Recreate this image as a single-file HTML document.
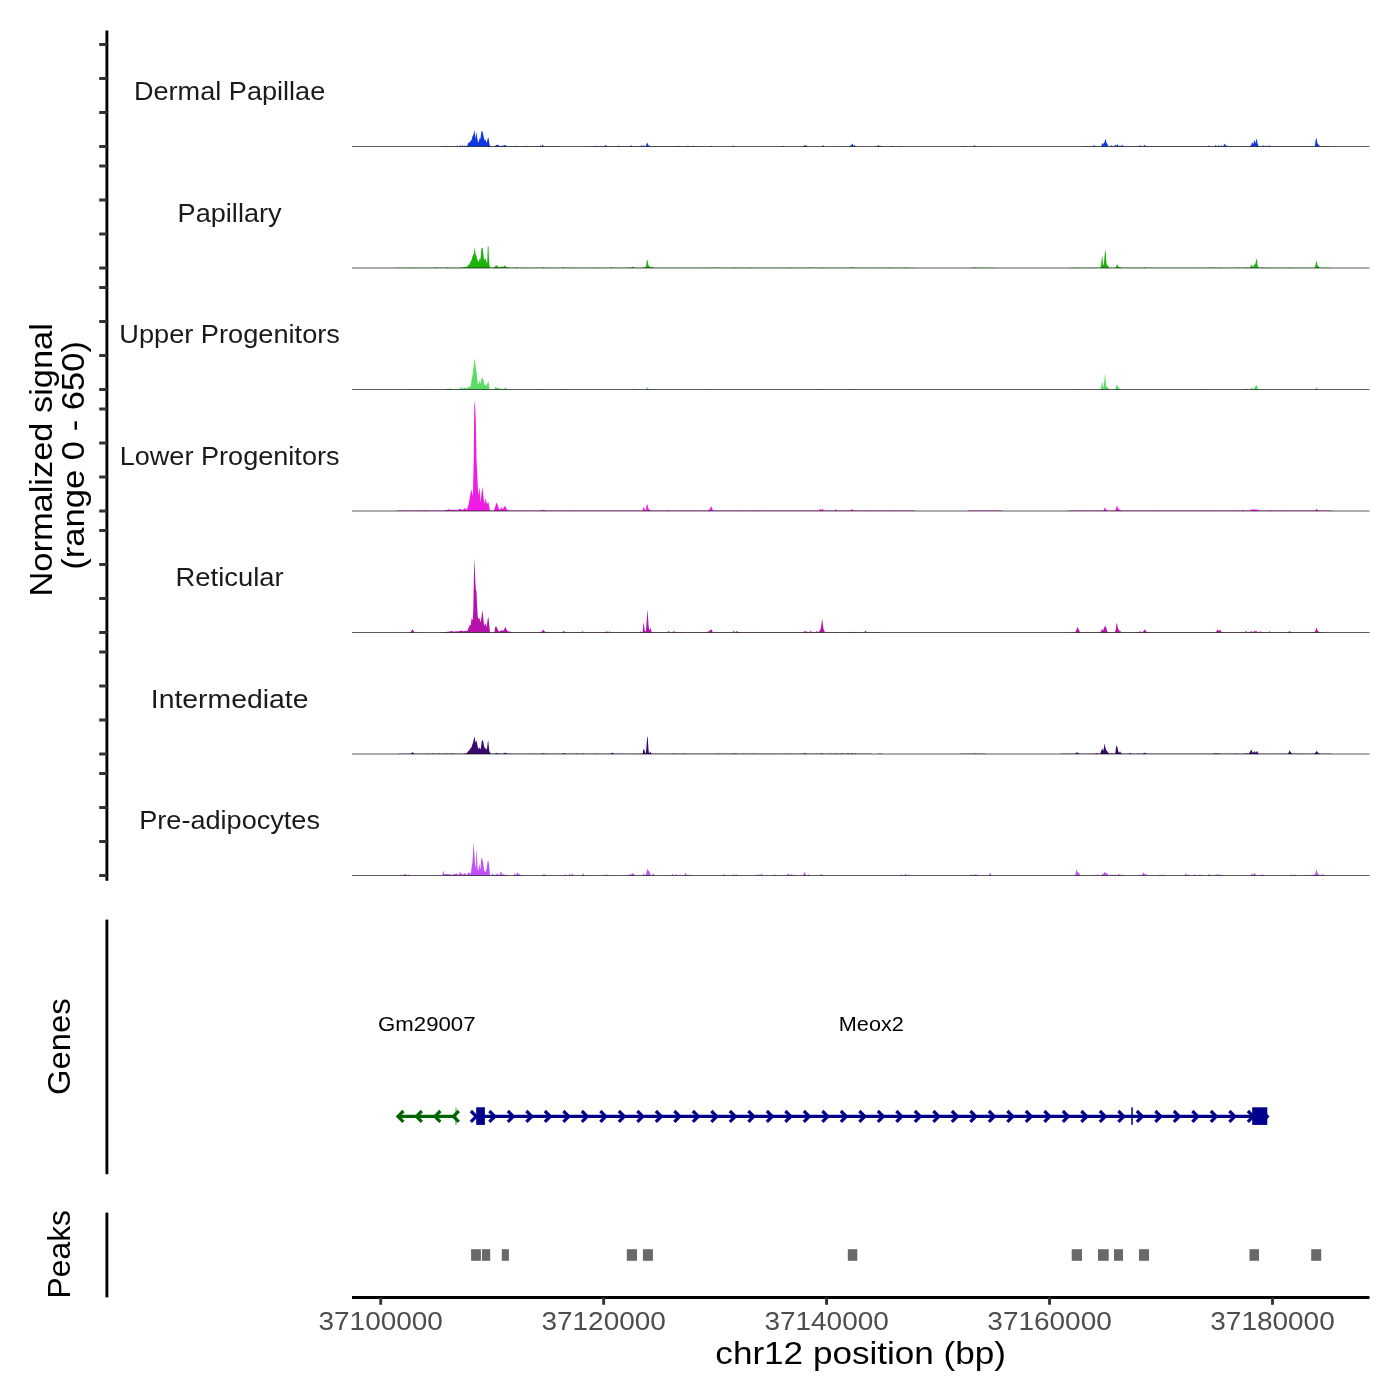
<!DOCTYPE html>
<html><head><meta charset="utf-8"><title>Coverage plot</title>
<style>html,body{margin:0;padding:0;background:#fff}svg{display:block;will-change:transform}text{font-family:"Liberation Sans",sans-serif}</style></head>
<body>
<svg width="1400" height="1400" viewBox="0 0 1400 1400" font-family="'Liberation Sans', sans-serif">
<path d="M352.0,146.50L352.00,146.50L439.75,146.50L440.00,146.25L445.00,146.25L446.00,145.70L447.00,146.25L456.50,146.25L457.50,145.50L458.50,146.25L459.50,146.25L460.50,145.30L461.25,146.08L461.75,146.25L462.50,145.00L463.25,146.25L464.25,146.20L465.00,145.30L465.75,146.20L466.75,146.20L467.25,145.47L468.00,143.30L469.50,142.30L471.50,140.00L472.50,136.36L473.50,134.65L474.50,129.64L475.50,138.90L476.25,133.00L476.50,132.30L477.50,139.79L478.25,142.82L479.75,137.94L480.25,139.36L481.50,131.20L482.25,131.12L482.50,131.58L484.25,139.25L484.75,140.25L485.00,140.18L485.25,139.38L485.50,139.33L486.00,141.50L486.50,142.75L486.75,142.36L487.75,138.42L488.00,137.87L488.50,137.70L489.50,144.25L489.75,145.30L490.25,146.25L494.75,146.25L495.50,145.50L497.00,144.70L498.50,145.00L499.50,146.00L501.50,145.90L505.00,145.00L507.50,146.25L515.00,146.25L516.00,145.70L517.00,146.25L525.00,146.25L526.00,145.80L527.00,146.25L539.50,146.25L539.75,146.23L540.50,145.20L541.25,146.23L541.50,146.25L542.50,144.50L543.50,146.05L544.00,145.70L544.75,146.25L560.00,146.25L560.25,146.50L589.75,146.50L590.00,146.25L594.75,146.25L596.00,145.70L597.25,146.25L604.00,146.25L605.50,145.00L607.00,146.25L617.25,146.25L618.50,145.50L619.75,146.25L630.00,146.25L631.00,144.90L632.00,146.25L640.50,146.25L641.50,145.30L642.50,146.25L643.00,146.25L643.75,145.02L644.75,146.25L645.75,146.25L646.75,143.25L647.25,142.50L648.50,145.60L649.00,145.30L650.25,146.25L678.00,146.25L679.00,145.70L680.00,146.25L686.75,146.25L688.00,145.60L689.00,146.24L692.00,146.25L693.00,145.80L694.00,146.25L700.00,146.25L700.25,146.50L709.75,146.50L711.00,145.80L712.25,146.50L732.25,146.50L733.50,145.60L734.75,146.50L781.75,146.50L783.00,145.80L784.25,146.50L803.50,146.50L804.25,145.47L805.00,144.90L806.00,145.66L806.50,145.20L807.50,146.50L821.75,146.50L823.00,145.10L824.25,146.50L838.75,146.50L840.00,145.90L841.25,146.50L849.75,146.50L850.75,144.89L851.00,144.70L851.50,144.89L852.25,143.55L852.75,144.10L853.50,146.02L854.50,145.00L855.00,145.38L855.75,146.50L877.00,146.50L877.75,145.47L878.50,144.90L880.00,146.27L881.00,145.70L882.25,146.50L890.75,146.50L892.00,145.80L893.25,146.50L898.75,146.50L900.00,146.00L901.25,146.50L962.50,146.50L965.00,146.00L967.50,146.50L973.00,146.50L973.75,145.72L974.50,145.30L975.25,145.72L976.00,146.50L982.75,146.50L984.00,146.00L985.25,146.50L1084.75,146.50L1085.00,146.20L1089.00,146.20L1090.00,145.90L1090.75,146.18L1093.00,146.20L1094.25,145.01L1095.25,146.15L1095.50,146.20L1101.25,146.13L1102.00,143.87L1102.50,143.11L1103.25,144.51L1104.00,142.55L1104.25,142.30L1104.50,142.79L1105.00,140.25L1105.50,138.76L1106.00,140.25L1106.50,142.97L1106.75,143.57L1107.00,143.32L1107.25,143.57L1108.25,146.15L1108.50,146.20L1110.75,146.16L1111.25,145.38L1111.75,145.01L1112.75,146.20L1114.25,146.20L1115.50,144.70L1116.50,145.87L1117.00,144.86L1117.50,144.30L1118.75,146.20L1119.00,146.20L1120.00,145.20L1121.00,146.20L1121.25,146.20L1122.25,144.72L1122.50,144.86L1123.25,146.20L1130.75,146.20L1132.00,145.90L1133.25,146.20L1139.00,146.20L1140.00,145.00L1141.00,146.20L1143.25,146.20L1144.50,144.70L1145.75,146.20L1147.00,145.90L1148.00,146.20L1175.25,146.20L1176.00,146.00L1176.75,146.20L1201.00,146.20L1202.00,145.90L1203.00,146.20L1208.25,146.20L1209.25,145.31L1210.00,146.16L1210.25,146.20L1214.75,146.20L1215.50,145.04L1215.75,144.92L1216.75,146.20L1218.00,146.07L1218.50,145.16L1218.75,145.02L1219.50,146.20L1220.50,146.07L1221.00,145.16L1221.25,145.02L1222.00,146.20L1223.25,146.20L1224.00,144.37L1224.50,143.74L1225.00,144.37L1225.50,145.50L1225.75,145.64L1226.50,144.90L1227.75,146.20L1238.75,146.20L1240.00,145.90L1241.25,146.20L1244.75,146.20L1246.00,145.80L1247.00,146.18L1250.00,146.20L1250.75,145.19L1251.00,145.00L1251.25,145.18L1251.75,143.07L1252.25,142.09L1253.00,144.07L1253.25,143.49L1253.50,143.41L1254.25,140.17L1254.50,140.06L1254.75,140.80L1255.25,143.21L1255.50,142.79L1256.50,138.44L1257.00,140.26L1257.50,143.58L1258.75,146.20L1261.75,146.20L1263.00,145.30L1264.25,146.20L1265.00,146.20L1266.00,145.50L1267.00,146.20L1268.00,146.16L1269.00,145.30L1270.25,146.20L1314.75,146.20L1315.75,139.66L1316.25,137.76L1316.75,139.15L1317.50,143.80L1317.75,143.55L1318.00,143.68L1319.00,145.50L1319.25,145.31L1319.50,145.41L1320.25,146.20L1330.00,146.20L1330.25,146.50L1369.50,146.50L1369.5,146.50Z" fill="#1038E0"/>
<line x1="352.0" x2="1369.5" y1="146.50" y2="146.50" stroke="#000" stroke-width="0.65"/>
<path d="M352.0,268.00L352.00,268.00L394.75,268.00L395.00,267.65L408.75,267.65L410.00,267.50L411.25,267.65L433.50,267.65L435.00,267.20L436.50,267.65L445.25,267.65L447.00,267.20L448.75,267.65L450.50,267.65L452.00,267.40L453.50,267.65L457.25,267.65L464.50,267.20L465.25,266.28L465.75,267.12L467.00,267.02L468.00,265.00L469.50,264.62L470.25,261.95L471.25,260.84L472.75,255.69L473.75,254.08L474.75,246.98L475.50,253.80L475.75,254.69L476.25,255.31L476.50,256.00L477.00,258.50L478.50,262.16L479.75,258.62L480.25,259.48L480.50,258.83L481.50,247.99L482.75,247.81L483.25,254.35L484.25,259.79L484.75,259.62L485.50,258.00L486.75,263.20L487.25,261.20L487.75,246.85L488.50,246.10L489.00,260.00L489.50,265.00L489.75,266.50L490.25,267.65L494.00,267.60L496.00,265.60L497.50,265.40L498.25,266.90L498.50,267.02L500.00,267.20L501.50,266.60L503.00,267.00L505.00,265.20L505.75,266.70L506.00,266.87L507.00,267.20L510.25,267.65L515.25,267.65L517.00,267.30L518.75,267.65L525.75,267.65L527.00,267.50L528.25,267.65L541.25,267.65L543.00,267.30L544.75,267.65L561.25,267.65L563.00,267.30L564.75,267.65L570.50,267.65L572.00,267.40L573.50,267.65L594.50,267.65L596.00,267.40L597.50,267.65L609.25,267.65L611.00,267.30L612.75,267.65L628.50,267.65L630.00,267.20L631.25,267.64L632.25,266.66L632.75,266.41L634.00,267.65L635.00,267.30L636.00,267.65L642.75,267.65L643.75,266.71L644.50,267.63L644.75,267.65L645.25,266.81L645.50,266.60L645.75,266.81L646.00,266.36L646.75,261.40L647.25,259.57L647.75,260.91L648.50,265.40L649.00,265.78L649.75,267.14L650.50,266.40L651.50,267.54L652.50,266.70L653.50,267.63L653.75,267.65L710.50,267.65L712.00,267.40L713.50,267.65L716.50,267.65L718.00,267.40L719.50,267.65L732.75,267.65L735.00,267.40L737.25,267.65L748.25,267.65L750.00,267.50L751.75,267.65L788.25,267.65L790.00,267.50L791.75,267.65L807.75,267.65L810.00,267.40L812.25,267.65L820.50,267.65L822.00,267.40L823.50,267.65L850.00,267.65L851.50,267.00L853.00,267.65L888.25,267.65L890.00,267.50L891.75,267.65L903.25,267.65L905.00,267.50L906.75,267.65L915.00,267.65L915.25,268.00L969.75,268.00L970.00,267.70L975.00,267.50L977.75,267.70L995.00,267.70L995.25,268.00L1069.75,268.00L1070.00,267.70L1075.25,267.70L1077.00,267.40L1078.75,267.70L1088.50,267.70L1090.00,267.50L1091.50,267.70L1095.00,267.70L1096.00,267.40L1097.00,267.70L1100.25,267.70L1101.00,265.63L1102.00,255.79L1102.25,256.04L1102.50,257.90L1103.00,263.62L1103.25,264.85L1103.50,265.08L1103.75,264.64L1105.25,249.06L1105.75,252.59L1106.50,263.76L1107.25,265.42L1107.50,265.09L1107.75,265.14L1108.00,265.51L1109.00,267.70L1115.25,267.70L1116.00,266.63L1117.00,264.26L1117.25,264.33L1117.50,264.80L1118.25,266.75L1118.75,266.41L1119.75,267.41L1120.25,267.01L1121.25,267.70L1129.75,267.70L1131.00,267.50L1132.25,267.70L1143.00,267.70L1144.50,267.20L1146.00,267.70L1207.75,267.70L1209.00,267.40L1210.25,267.70L1212.50,267.70L1214.00,267.20L1215.50,267.70L1218.25,267.70L1220.00,267.40L1221.75,267.70L1235.75,267.70L1238.00,267.50L1240.00,267.69L1244.50,267.70L1246.00,267.20L1247.50,267.70L1249.50,267.70L1250.25,266.87L1250.75,266.63L1251.50,264.69L1251.75,264.76L1252.00,265.26L1252.50,266.81L1253.00,266.50L1253.25,266.69L1253.50,266.62L1254.00,265.04L1254.50,264.18L1255.00,264.80L1255.75,262.22L1256.50,258.14L1257.00,260.36L1257.75,266.02L1258.75,267.70L1260.75,267.68L1262.00,267.30L1263.50,267.70L1265.75,267.70L1267.00,267.40L1268.25,267.70L1288.50,267.70L1290.00,267.50L1291.50,267.70L1314.50,267.70L1314.75,267.59L1315.25,266.31L1316.00,262.42L1316.50,260.79L1317.00,262.42L1317.50,265.39L1318.00,265.50L1319.00,267.27L1319.25,267.21L1320.00,267.70L1330.00,267.70L1330.25,268.00L1369.50,268.00L1369.5,268.00Z" fill="#1EB20C"/>
<line x1="352.0" x2="1369.5" y1="268.00" y2="268.00" stroke="#000" stroke-width="0.65"/>
<path d="M352.0,389.50L352.00,389.50L407.00,389.50L409.00,389.00L411.00,389.50L414.75,389.50L416.00,389.10L417.25,389.50L421.75,389.50L423.00,389.10L424.25,389.50L428.75,389.50L430.00,389.10L431.25,389.50L435.75,389.50L437.00,389.00L438.25,389.50L444.50,389.50L445.50,388.90L450.00,388.70L451.00,388.30L452.00,389.00L458.50,388.90L460.00,388.70L460.50,387.29L461.50,387.21L462.25,388.50L463.25,388.50L464.00,387.70L465.25,387.52L466.00,388.50L467.25,388.31L468.00,387.20L469.00,386.70L470.25,386.86L470.75,385.92L471.50,380.36L473.00,372.08L474.50,358.78L474.75,359.42L475.75,367.14L476.50,371.26L477.75,383.81L478.50,384.00L479.25,381.00L479.50,380.82L480.25,383.64L480.75,382.45L481.50,378.74L482.00,378.10L482.75,378.27L483.50,380.50L484.00,384.00L484.50,385.00L485.00,384.90L485.50,384.40L486.25,385.69L486.75,385.54L487.50,383.00L488.25,381.21L488.75,383.29L489.50,389.50L494.50,389.50L495.25,386.94L499.25,388.48L502.00,388.90L504.25,388.90L505.50,387.30L506.25,388.40L507.00,388.90L509.00,389.10L510.00,389.50L541.00,389.50L542.50,388.80L544.00,389.50L563.50,389.50L565.00,388.90L566.50,389.50L631.50,389.50L633.00,388.80L634.50,389.50L646.00,389.50L647.25,387.32L647.75,387.86L648.25,389.01L649.00,388.70L650.25,389.50L679.25,389.50L680.50,388.90L681.75,389.50L709.75,389.50L711.00,389.10L712.25,389.50L818.00,389.50L820.00,389.00L822.00,389.50L851.00,389.50L853.00,389.00L855.00,389.50L1075.75,389.50L1077.00,389.10L1078.25,389.50L1100.50,389.50L1101.00,388.38L1102.00,381.95L1102.25,382.10L1102.50,383.25L1103.00,386.79L1103.25,387.53L1103.50,387.72L1104.00,384.36L1105.00,373.60L1105.50,377.88L1106.00,385.26L1106.75,387.29L1107.25,386.87L1108.25,388.40L1108.75,388.62L1109.50,389.50L1115.00,389.50L1115.75,388.23L1116.50,385.56L1117.00,384.62L1117.50,385.56L1118.00,387.28L1118.25,387.12L1118.50,387.28L1119.25,388.71L1119.75,388.56L1120.75,389.50L1143.25,389.50L1144.50,389.00L1145.75,389.50L1199.75,389.50L1201.00,389.10L1202.25,389.50L1244.25,389.50L1245.50,388.70L1246.50,389.27L1247.50,388.50L1248.50,389.50L1250.25,389.50L1251.25,387.33L1251.50,387.54L1252.00,388.87L1252.50,388.70L1253.25,389.33L1254.25,387.52L1254.75,387.78L1255.25,386.43L1255.50,386.11L1255.75,386.43L1256.50,384.62L1257.50,388.06L1258.00,388.46L1258.50,389.50L1315.25,389.50L1316.50,387.30L1317.00,387.95L1317.50,389.11L1318.00,388.90L1319.00,389.50L1369.50,389.50L1369.5,389.50Z" fill="#58DE64"/>
<line x1="352.0" x2="1369.5" y1="389.50" y2="389.50" stroke="#000" stroke-width="0.65"/>
<path d="M352.0,511.00L352.00,511.00L396.75,511.00L397.00,510.50L406.25,510.50L406.75,510.05L407.25,510.50L422.25,510.50L422.75,510.34L424.25,510.50L424.75,510.04L425.00,510.49L425.75,510.06L426.25,510.50L432.00,510.50L432.50,510.27L433.25,510.50L437.50,510.50L437.75,510.32L438.25,510.50L444.50,510.50L445.00,510.20L447.50,509.80L449.00,509.00L450.00,510.00L452.00,509.80L454.00,510.00L455.50,509.81L456.50,510.20L458.00,509.50L459.50,509.20L460.25,508.45L461.25,509.52L462.25,509.98L463.50,509.32L465.25,507.76L465.75,509.34L466.00,509.50L467.00,509.50L467.75,506.69L468.75,503.91L471.25,488.63L472.50,495.91L473.00,492.00L473.75,457.80L474.25,405.00L474.50,401.25L475.00,405.00L475.75,419.12L476.50,459.04L478.25,495.72L479.25,487.65L479.50,487.76L480.50,502.40L482.25,486.58L484.25,503.08L484.50,503.67L485.75,498.02L486.50,502.40L487.00,504.03L488.25,501.70L488.50,502.43L490.00,510.50L493.75,510.50L494.00,510.20L496.50,502.66L496.75,502.70L497.25,503.70L498.25,507.12L499.00,509.00L499.75,509.75L500.75,508.85L501.50,506.80L502.25,508.98L503.25,508.52L504.50,506.40L505.25,506.04L505.50,506.27L506.75,509.29L507.50,510.20L509.75,510.50L517.50,510.50L518.00,510.24L518.50,510.50L541.00,510.50L542.50,509.40L543.75,510.27L544.50,510.00L545.50,510.50L549.50,510.50L550.25,510.18L551.25,510.50L552.50,510.50L553.00,510.30L553.50,510.50L572.75,510.50L573.75,510.31L574.00,510.50L577.50,510.50L577.75,510.30L578.25,510.50L590.25,510.50L590.75,510.18L591.00,510.50L598.25,510.50L598.50,510.33L599.00,510.50L618.25,510.50L618.50,510.37L618.75,510.50L642.50,510.50L643.25,508.02L643.75,507.00L644.25,507.75L645.00,510.00L645.25,509.81L645.75,510.16L646.00,509.65L646.75,505.56L647.25,504.05L647.75,505.15L648.50,509.01L649.00,509.15L649.75,510.15L650.25,509.81L651.25,510.50L660.50,510.50L661.00,510.18L661.75,510.50L667.50,510.50L668.50,509.80L669.50,510.50L679.75,510.50L680.50,510.20L681.25,510.50L687.25,510.50L688.00,510.31L688.50,510.50L690.75,510.50L691.00,510.32L691.50,510.50L707.50,510.50L708.50,509.80L709.00,510.10L709.25,509.91L709.75,508.86L710.25,508.37L711.00,506.36L711.25,506.15L712.50,509.50L713.50,510.50L731.50,510.50L731.75,510.29L732.00,510.50L739.75,510.50L740.25,510.28L740.75,510.50L741.25,510.37L741.75,510.50L755.00,510.50L755.50,510.37L758.50,510.50L759.00,510.29L760.00,510.50L761.25,510.27L761.75,510.50L778.50,510.50L778.75,510.36L779.25,510.50L807.00,510.50L807.25,510.30L807.75,510.50L819.00,510.50L819.75,509.28L820.25,508.82L821.25,510.49L822.50,508.60L823.75,510.50L834.50,510.49L835.25,509.50L835.75,509.21L837.00,510.50L850.50,510.50L851.25,509.28L851.75,508.82L852.75,510.46L853.50,510.00L854.50,510.50L864.50,510.50L865.50,510.20L866.50,510.50L891.00,510.50L891.50,510.31L892.25,510.50L915.00,510.50L915.25,511.00L967.75,511.00L968.00,510.55L986.50,510.55L987.00,510.37L987.50,510.55L1002.00,510.55L1002.25,511.00L1067.75,511.00L1068.00,510.50L1072.75,510.50L1073.00,510.25L1073.50,510.50L1079.25,510.50L1080.00,510.20L1080.50,510.50L1083.50,510.50L1084.00,510.31L1084.75,510.50L1103.50,510.50L1104.50,508.18L1105.00,507.50L1105.50,508.18L1106.25,509.93L1106.50,509.80L1106.75,509.93L1107.25,510.45L1113.50,510.50L1113.75,510.36L1115.00,510.50L1115.25,510.37L1115.75,509.43L1116.50,506.72L1117.00,505.70L1117.50,506.72L1118.00,508.58L1118.25,508.81L1118.50,508.60L1118.75,508.81L1119.50,510.01L1120.00,509.60L1121.00,510.50L1122.00,510.20L1122.75,510.50L1127.00,510.50L1127.50,510.31L1128.00,510.50L1145.00,510.50L1145.50,510.22L1145.75,510.50L1155.25,510.50L1155.75,510.10L1156.25,510.50L1182.50,510.50L1183.00,510.35L1183.25,510.50L1198.50,510.50L1199.00,510.25L1199.25,510.50L1200.00,510.50L1200.75,510.08L1201.50,510.50L1210.75,510.50L1211.50,510.14L1212.25,510.50L1217.75,510.50L1218.00,510.32L1218.50,510.50L1233.00,510.50L1233.75,510.14L1234.25,510.50L1236.50,510.50L1237.00,510.18L1237.75,510.50L1239.25,510.49L1239.75,510.16L1240.25,510.50L1242.00,510.50L1242.75,509.71L1243.00,509.71L1243.75,510.50L1250.00,510.50L1250.25,510.42L1251.25,509.18L1251.50,509.45L1252.00,509.00L1253.00,510.37L1253.50,509.36L1254.00,508.80L1254.50,509.36L1255.00,510.37L1256.00,509.00L1256.50,509.51L1257.00,510.43L1258.00,509.40L1259.00,510.50L1270.50,510.50L1271.25,510.10L1272.25,510.50L1273.25,510.36L1273.75,510.50L1281.50,510.50L1282.00,510.16L1282.50,510.50L1283.00,510.50L1283.25,510.24L1283.75,510.50L1315.25,510.50L1315.50,510.37L1316.00,509.36L1316.50,508.80L1317.50,510.25L1318.00,510.00L1319.00,510.50L1332.00,510.50L1332.25,511.00L1369.50,511.00L1369.5,511.00Z" fill="#F01CE4"/>
<line x1="352.0" x2="1369.5" y1="511.00" y2="511.00" stroke="#000" stroke-width="0.65"/>
<path d="M352.0,632.50L352.00,632.50L410.25,632.50L411.50,630.95L412.25,629.23L412.50,629.18L413.25,630.80L414.00,631.40L414.75,632.50L419.75,632.50L421.00,632.00L422.25,632.50L439.75,632.50L440.00,632.30L444.00,632.30L445.00,631.90L445.50,632.05L450.00,631.60L452.00,631.10L454.00,631.70L456.00,631.30L458.00,631.50L461.50,630.60L463.00,631.30L464.50,630.90L466.00,631.10L467.25,630.81L468.00,629.50L469.50,625.50L470.25,624.66L470.50,625.46L470.75,625.50L471.50,618.12L472.00,619.70L472.50,619.70L472.75,619.18L473.25,612.00L474.00,572.50L474.50,558.00L475.25,581.00L475.75,587.92L476.00,590.00L476.50,591.50L477.00,604.50L477.75,616.61L478.50,619.00L479.25,618.00L479.50,618.25L480.00,620.50L480.50,621.79L480.75,621.98L482.50,610.10L483.75,622.67L484.25,626.08L485.50,622.90L486.00,625.50L486.50,626.80L487.00,624.47L487.75,618.75L488.25,616.80L488.75,620.00L489.75,629.88L490.00,631.75L490.25,632.30L494.00,632.25L494.50,631.62L495.00,628.00L495.50,626.75L496.00,626.30L496.25,626.31L498.25,630.80L499.00,631.50L500.75,630.73L501.50,630.00L502.50,630.67L503.75,630.19L505.00,627.70L505.50,627.10L506.75,629.88L507.50,631.00L509.50,631.70L510.50,631.50L511.50,632.30L518.75,632.30L520.00,631.80L521.25,632.30L527.75,632.30L529.00,631.90L530.25,632.30L540.25,632.30L541.25,631.59L542.00,631.66L542.75,630.02L543.25,629.55L544.25,631.27L544.75,631.36L545.75,632.30L546.50,632.30L547.50,631.70L548.50,632.30L562.25,632.30L563.25,631.33L563.75,631.11L564.75,631.92L565.50,631.80L566.50,632.30L576.00,632.30L577.00,632.00L578.00,632.30L581.25,632.30L581.50,632.27L582.50,631.10L583.50,632.27L583.75,632.30L594.00,632.30L595.00,632.00L596.00,632.30L604.50,632.30L605.50,631.60L606.50,632.29L607.50,631.20L608.50,632.29L609.75,631.31L610.75,632.30L621.00,632.30L622.00,632.00L623.00,632.30L631.00,632.30L632.00,631.90L633.00,632.30L635.00,632.30L636.00,631.80L637.00,632.30L639.50,632.30L640.50,631.50L641.50,632.30L642.50,632.30L642.75,631.25L643.25,623.73L643.50,622.51L644.75,630.38L645.00,631.15L645.50,631.40L645.75,631.30L646.00,630.30L647.50,609.30L648.50,624.54L649.00,628.97L649.50,630.30L650.25,627.95L650.50,627.90L651.50,631.75L652.00,632.30L667.50,632.30L668.25,631.32L668.75,631.01L670.00,632.30L672.50,632.30L673.25,631.40L673.75,631.11L675.00,632.30L676.00,631.80L677.00,632.30L679.75,632.30L681.00,631.70L682.25,632.30L691.00,632.30L692.00,631.90L693.00,632.30L702.75,632.35L704.00,631.90L705.00,632.33L707.25,632.35L708.50,631.00L709.25,631.70L710.00,629.93L710.50,629.32L711.25,630.18L711.50,629.81L711.75,629.87L712.75,632.33L713.00,632.35L732.50,632.35L733.25,631.32L733.75,631.01L735.00,632.35L735.50,632.35L736.25,631.32L736.75,631.01L737.75,632.07L738.50,631.70L739.75,632.35L745.75,632.35L747.00,631.90L748.25,632.35L769.50,632.35L771.00,632.00L772.50,632.35L802.75,632.35L803.00,632.31L804.00,631.30L804.75,631.77L805.50,630.90L806.25,631.77L807.00,631.50L808.00,632.34L809.50,632.35L810.25,631.25L810.75,630.91L812.00,632.30L813.00,631.80L814.00,632.30L815.50,632.35L816.50,631.00L817.50,632.35L818.25,632.35L819.00,631.25L819.75,630.89L820.50,629.32L821.25,625.91L822.00,619.71L822.25,619.03L823.25,627.43L824.00,630.50L825.25,632.35L834.75,632.35L836.00,631.90L837.25,632.35L849.50,632.35L851.00,631.80L852.50,632.35L854.00,632.33L855.00,631.90L856.25,632.35L864.25,632.35L865.50,630.50L866.75,632.35L880.00,632.35L880.25,632.50L1069.75,632.50L1070.00,632.30L1075.00,632.30L1076.00,631.00L1076.75,628.66L1077.25,627.93L1077.75,626.61L1078.50,629.59L1078.75,629.64L1079.00,630.01L1080.00,632.30L1100.50,632.30L1101.25,630.96L1102.00,628.78L1102.25,628.85L1102.75,630.21L1103.25,630.46L1104.00,628.05L1104.50,627.28L1105.00,625.23L1105.25,625.35L1105.75,627.56L1106.00,627.33L1106.25,627.43L1107.00,630.64L1108.00,632.30L1114.75,632.30L1115.00,631.95L1115.75,629.40L1116.25,625.21L1116.75,622.71L1117.00,623.20L1117.75,627.77L1118.00,628.05L1118.50,629.86L1119.00,630.03L1119.75,631.30L1120.25,630.91L1121.25,632.13L1122.00,631.80L1123.00,632.30L1137.00,632.30L1138.00,632.00L1138.75,632.23L1140.00,631.00L1141.25,632.30L1142.50,632.30L1143.50,630.95L1143.75,630.99L1144.00,630.66L1144.75,629.13L1145.25,629.76L1145.75,631.11L1146.00,631.39L1146.50,631.47L1147.25,632.30L1148.00,632.30L1149.00,631.90L1150.00,632.30L1215.25,632.30L1216.25,631.51L1216.50,631.59L1217.25,629.93L1217.75,629.34L1218.50,630.77L1219.00,630.58L1219.25,631.01L1220.00,629.80L1220.25,629.85L1221.25,631.80L1221.50,631.70L1222.50,632.30L1235.75,632.30L1237.00,631.90L1238.25,632.30L1240.25,632.30L1241.50,631.70L1242.75,632.30L1245.00,632.30L1245.75,631.25L1246.25,630.91L1247.50,632.27L1248.50,631.70L1249.75,632.30L1250.25,632.14L1250.75,631.30L1251.25,630.91L1252.25,632.30L1253.25,631.31L1254.00,632.16L1254.50,631.09L1255.00,630.50L1256.00,631.86L1256.75,630.91L1258.00,632.30L1259.75,632.23L1260.25,631.60L1260.75,631.31L1261.75,632.30L1263.00,632.30L1264.00,631.90L1265.00,632.30L1268.25,632.30L1269.50,631.30L1270.75,632.30L1288.25,632.30L1289.50,630.90L1290.50,632.04L1291.25,631.71L1292.25,632.30L1302.00,632.30L1303.00,632.10L1304.00,632.30L1312.00,632.30L1313.00,631.90L1314.25,632.30L1314.50,632.27L1315.50,630.73L1316.00,628.72L1316.50,627.62L1317.00,628.72L1317.50,630.65L1317.75,630.52L1318.00,630.78L1318.50,631.70L1319.25,631.78L1320.00,632.30L1325.00,632.30L1325.25,632.50L1369.50,632.50L1369.5,632.50Z" fill="#B412AA"/>
<line x1="352.0" x2="1369.5" y1="632.50" y2="632.50" stroke="#000" stroke-width="0.65"/>
<path d="M352.0,754.00L352.00,754.00L397.75,754.00L398.00,753.75L410.50,753.75L411.75,753.09L412.50,752.00L413.25,753.09L414.75,753.75L426.50,753.75L427.00,753.46L427.50,753.75L428.25,753.40L429.00,753.75L432.00,753.75L432.75,753.27L434.00,753.75L438.00,753.75L439.00,753.30L440.00,753.75L442.00,753.75L443.00,753.40L444.00,753.75L445.25,753.56L446.00,753.75L447.00,753.40L448.00,753.75L448.50,753.48L449.00,753.75L450.25,753.75L451.00,753.44L451.50,753.55L452.00,753.40L452.75,753.68L453.50,753.56L454.25,753.75L463.50,753.75L464.50,753.40L466.25,753.21L467.00,752.85L468.00,751.40L469.50,750.11L470.50,748.28L471.50,747.13L473.00,742.50L474.50,736.64L474.75,737.31L475.50,742.90L476.25,740.45L476.50,740.50L477.75,747.04L478.50,749.20L479.25,747.50L479.50,747.43L480.50,749.52L481.00,747.14L481.75,741.43L482.25,740.31L483.00,740.50L484.25,747.12L484.50,747.57L486.50,749.50L486.75,749.43L487.25,746.77L487.75,742.00L488.00,740.90L488.25,740.76L489.25,751.15L490.75,753.73L495.00,753.72L496.25,752.81L497.50,753.64L498.50,753.20L499.75,753.75L502.50,753.75L503.50,753.20L504.25,753.57L504.75,752.80L505.25,752.41L506.00,753.36L506.50,753.20L507.50,753.75L510.50,753.75L511.00,753.52L511.75,753.75L529.75,753.75L530.50,753.47L531.50,753.75L534.25,753.75L534.75,753.51L535.50,753.75L541.25,753.75L542.50,753.00L543.75,753.75L544.25,753.44L545.50,753.70L546.25,753.41L547.00,753.75L559.00,753.75L559.75,753.51L560.50,753.74L562.25,753.75L563.75,753.01L564.75,753.59L565.50,753.40L566.50,753.75L573.75,753.75L574.50,753.40L575.25,753.74L576.00,753.75L576.75,753.32L577.75,753.75L581.00,753.75L583.00,753.44L584.00,753.75L595.00,753.75L596.00,753.50L597.00,753.75L610.75,753.75L612.00,752.60L613.00,753.51L613.50,753.30L614.50,753.75L621.25,753.75L622.00,753.57L622.50,753.75L639.25,753.75L640.25,753.48L642.00,753.75L642.50,753.66L642.75,753.42L643.00,750.50L643.50,749.32L644.25,749.47L645.00,752.60L645.25,753.20L645.75,753.20L646.25,749.30L647.00,739.33L647.25,737.07L647.50,736.42L647.75,737.50L648.50,750.00L649.00,752.82L649.75,752.99L650.50,751.60L651.25,753.38L651.75,753.75L672.00,753.75L672.50,753.61L675.00,753.75L676.00,753.50L677.00,753.75L682.75,753.75L683.75,753.34L684.75,753.75L708.25,753.63L716.50,753.75L717.75,753.38L719.00,753.75L725.75,753.75L726.50,753.48L727.00,753.75L729.75,753.75L730.75,753.40L731.75,753.72L732.75,753.75L734.00,753.30L735.00,753.68L736.00,753.20L737.00,753.75L740.50,753.75L741.00,753.52L741.50,753.75L743.00,753.75L743.75,753.44L744.50,753.75L751.00,753.75L751.25,753.60L751.50,753.75L754.00,753.75L754.75,753.36L755.50,753.75L767.50,753.75L768.00,753.60L768.50,753.75L789.00,753.75L789.75,753.44L790.50,753.75L803.25,753.75L804.50,753.10L805.75,753.75L807.00,753.40L808.00,753.75L820.25,753.75L821.50,753.20L823.25,753.75L829.00,753.75L829.25,753.62L833.50,753.75L834.25,753.58L834.75,753.72L836.00,753.40L837.50,753.75L839.75,753.75L840.00,753.61L840.50,753.75L842.00,753.30L843.50,753.75L846.50,753.75L848.00,753.30L849.50,753.75L850.50,753.75L852.00,753.30L853.50,753.75L855.00,753.38L856.00,753.75L872.00,753.75L872.25,754.00L877.50,754.00L880.00,753.50L882.50,754.00L959.75,754.00L960.00,753.80L973.25,753.79L975.00,753.50L976.75,753.79L986.00,753.80L986.25,754.00L1059.75,754.00L1060.00,753.75L1064.75,753.75L1065.25,753.50L1066.00,753.75L1074.75,753.75L1075.50,753.27L1076.00,753.33L1077.00,752.00L1077.75,753.09L1078.25,753.11L1079.00,753.74L1091.25,753.75L1092.00,753.42L1093.00,753.75L1094.00,753.75L1095.00,753.40L1095.75,753.54L1096.50,753.00L1097.50,753.61L1098.00,753.40L1098.75,753.74L1100.00,753.75L1100.75,752.62L1101.25,750.58L1101.50,749.88L1101.75,749.73L1102.25,748.13L1102.75,750.31L1103.25,750.71L1103.75,748.76L1104.50,743.86L1104.75,744.07L1105.25,747.48L1105.50,747.31L1106.00,750.09L1106.25,749.80L1106.75,751.12L1107.00,750.82L1107.25,751.12L1107.75,752.39L1108.25,752.60L1108.75,753.30L1109.00,753.20L1110.00,753.75L1111.00,753.72L1112.00,753.00L1113.00,753.72L1114.00,753.40L1115.00,753.75L1115.25,753.26L1115.50,751.77L1116.00,747.18L1116.50,744.67L1117.00,747.18L1117.25,746.66L1117.50,747.20L1118.00,750.62L1118.75,752.74L1119.25,752.61L1120.00,751.24L1120.50,751.99L1121.00,753.33L1121.50,753.27L1122.25,753.75L1129.00,753.75L1130.50,753.00L1131.75,753.75L1136.75,753.75L1138.00,753.50L1139.25,753.75L1142.50,753.75L1143.50,753.20L1144.00,753.44L1145.00,752.40L1146.00,753.50L1146.50,753.45L1147.00,753.75L1212.00,753.75L1213.00,753.40L1214.00,753.75L1214.75,753.75L1216.00,753.00L1217.00,753.72L1218.00,753.30L1219.00,753.75L1220.00,753.20L1221.00,753.75L1227.25,753.75L1227.75,753.54L1228.25,753.75L1234.50,753.75L1235.00,753.61L1236.75,753.75L1237.50,753.43L1239.00,753.75L1242.00,753.75L1243.25,753.68L1244.00,753.40L1245.00,753.72L1246.00,753.00L1247.00,753.72L1248.00,753.20L1248.75,753.64L1249.50,752.56L1249.75,752.61L1250.50,751.35L1251.25,749.17L1251.50,749.46L1252.00,751.30L1252.75,752.80L1253.00,752.89L1253.25,752.51L1253.75,752.34L1254.50,750.71L1255.25,752.34L1255.75,752.51L1256.00,752.89L1257.00,750.71L1258.00,752.80L1258.75,753.69L1259.00,753.75L1287.75,753.75L1288.75,752.46L1289.50,750.28L1289.75,750.35L1290.25,751.71L1290.75,751.96L1291.25,753.21L1291.75,753.26L1292.50,753.75L1300.00,753.75L1301.00,753.50L1302.00,753.75L1314.00,753.75L1314.75,753.21L1315.25,753.23L1315.75,752.08L1316.00,751.80L1316.25,751.81L1316.75,750.85L1317.00,751.04L1317.50,752.24L1318.00,752.54L1318.50,753.34L1319.00,753.20L1320.00,753.75L1332.00,753.75L1332.25,754.00L1369.50,754.00L1369.5,754.00Z" fill="#3A086C"/>
<line x1="352.0" x2="1369.5" y1="754.00" y2="754.00" stroke="#000" stroke-width="0.65"/>
<path d="M352.0,875.50L352.00,875.50L400.00,875.50L401.00,874.60L402.00,875.50L403.75,875.50L405.00,873.50L406.00,874.86L406.50,874.79L407.25,875.50L407.75,875.43L408.25,874.80L408.75,874.51L409.75,875.50L442.25,875.50L443.25,870.65L444.25,874.01L445.50,874.30L447.00,873.90L448.50,874.30L450.00,874.10L451.00,874.90L452.50,874.90L453.50,874.10L455.00,874.30L456.25,873.23L456.50,873.28L457.25,874.51L458.25,874.69L459.25,874.35L459.75,871.99L460.25,871.92L460.75,873.74L461.25,872.29L461.75,874.31L462.75,874.41L465.00,872.99L465.25,873.08L465.75,874.70L466.75,874.70L467.50,874.10L468.00,872.58L468.50,873.58L468.75,873.28L469.25,871.52L469.75,873.28L470.50,874.20L471.00,872.46L472.00,864.56L472.50,861.94L473.50,842.83L473.75,844.00L474.25,852.62L475.50,867.57L475.75,867.83L476.00,863.50L476.50,849.83L476.75,851.25L477.50,867.00L478.00,870.80L478.50,869.50L479.50,863.70L480.00,868.02L480.25,869.32L480.50,868.95L481.25,858.00L481.50,857.10L482.00,859.58L482.75,860.53L483.00,861.74L484.00,869.67L484.50,871.03L485.25,872.03L485.50,871.96L486.00,870.74L486.75,868.18L487.50,862.20L488.00,860.10L488.50,861.50L489.00,864.50L490.00,875.50L491.50,875.50L492.50,873.30L493.00,874.70L493.75,874.51L494.75,874.88L496.00,874.70L496.75,874.37L497.25,873.08L498.00,874.53L499.25,874.89L500.00,874.55L500.50,872.09L501.50,872.01L502.00,874.50L503.50,874.30L504.50,874.70L506.50,874.70L507.50,875.50L513.50,875.50L514.50,873.56L514.75,873.62L515.50,874.99L516.25,874.50L517.25,872.34L517.50,872.50L518.25,873.99L518.50,873.95L519.00,874.47L519.50,873.90L520.25,874.94L520.50,875.05L521.00,874.80L522.00,875.50L542.00,875.50L543.00,874.50L543.50,874.84L544.25,873.92L545.25,875.29L546.00,874.90L547.00,875.50L564.50,875.50L565.50,874.30L566.50,875.50L568.50,875.50L569.00,874.47L569.50,873.90L570.00,874.47L570.50,875.50L571.00,875.50L571.25,875.34L571.75,873.96L572.25,873.32L573.25,875.50L582.00,875.50L582.25,875.34L582.75,873.96L583.25,873.32L584.25,875.50L604.00,875.50L605.00,874.30L606.00,875.50L606.50,875.50L607.50,874.30L608.50,875.50L626.75,875.50L628.00,874.70L629.00,875.24L630.00,873.90L630.75,874.77L631.50,874.00L632.00,874.50L632.50,873.37L633.00,872.74L634.00,874.41L634.25,874.31L634.50,874.50L635.25,875.50L642.50,875.50L642.75,875.34L643.25,873.96L643.75,873.32L644.75,875.50L645.50,875.50L646.50,873.05L647.00,869.85L647.25,868.81L647.50,868.67L648.00,870.64L648.25,870.26L648.50,871.01L648.75,871.19L649.00,870.62L649.75,872.88L650.25,873.59L651.00,875.50L652.00,875.50L652.25,875.34L652.75,873.96L653.25,873.32L654.25,875.50L671.50,875.50L672.00,874.47L672.50,873.90L673.00,874.47L673.50,875.50L675.25,875.41L675.75,874.66L676.25,874.31L677.25,875.50L679.00,875.50L680.00,874.50L681.00,875.50L682.00,875.50L683.00,874.70L684.00,875.50L684.25,875.50L685.00,873.49L685.50,872.74L686.75,875.15L687.50,874.50L688.50,875.50L689.00,875.50L690.00,874.30L691.00,875.50L723.00,875.50L723.25,875.38L723.75,874.38L724.25,873.92L725.25,875.50L732.50,875.50L733.75,874.31L734.75,875.50L735.25,875.41L735.75,874.66L736.25,874.31L737.25,875.50L756.50,875.50L757.50,874.30L758.50,875.50L758.75,875.50L759.75,874.32L760.50,875.16L760.75,875.10L761.25,874.16L761.75,873.72L763.00,875.50L774.00,875.50L775.00,874.30L776.00,875.50L776.50,875.50L777.50,874.90L778.50,875.50L786.75,875.50L788.00,873.30L788.75,874.50L789.00,874.54L789.25,874.32L789.50,874.43L790.25,875.38L790.75,874.38L791.25,873.92L792.25,875.50L792.75,875.41L793.25,874.66L793.75,874.31L794.75,875.50L803.00,875.50L804.00,872.71L804.50,871.90L805.00,872.71L805.50,874.19L807.00,875.50L807.75,875.41L808.25,874.66L808.75,874.31L809.75,875.50L820.00,875.50L820.75,874.30L821.25,873.91L822.25,875.22L823.00,874.70L824.00,875.50L900.00,875.50L901.25,874.31L902.25,875.50L904.50,875.50L905.00,874.34L905.50,873.70L906.00,874.34L906.50,875.50L907.75,875.41L908.25,874.66L908.75,874.31L909.75,875.50L970.50,875.50L971.75,874.31L972.75,875.50L973.75,875.50L975.00,873.90L976.00,875.24L977.00,874.30L978.00,875.50L989.00,875.50L989.75,873.38L990.25,872.77L991.50,875.50L1074.75,875.50L1075.50,874.07L1076.50,869.50L1076.75,869.62L1077.25,871.80L1077.50,871.79L1078.00,873.01L1078.25,873.05L1078.75,872.35L1079.75,874.51L1080.75,875.50L1094.00,875.50L1095.00,874.80L1096.00,875.50L1096.50,875.50L1097.50,874.30L1098.50,875.50L1101.50,875.50L1102.00,874.21L1102.50,873.50L1103.25,874.80L1104.00,872.54L1104.50,871.68L1105.25,873.18L1105.50,872.81L1106.25,873.38L1106.75,872.77L1107.50,874.24L1107.75,874.02L1108.00,874.13L1108.75,875.39L1109.00,875.50L1109.75,875.41L1110.25,874.66L1110.75,874.31L1111.50,875.16L1111.75,875.22L1112.50,874.70L1113.50,875.50L1114.00,875.50L1115.00,874.30L1116.00,875.50L1117.50,875.50L1118.25,874.30L1118.75,873.91L1119.50,874.85L1120.00,874.50L1121.00,875.50L1122.00,874.30L1123.00,875.50L1139.00,875.50L1140.00,874.30L1141.00,875.50L1142.00,875.50L1142.75,872.89L1143.25,872.14L1144.00,873.95L1144.25,874.14L1144.50,873.90L1145.00,874.59L1145.75,873.52L1146.50,874.93L1147.00,874.70L1148.00,875.50L1159.00,875.50L1160.00,874.30L1161.00,875.50L1162.25,875.41L1162.75,874.66L1163.25,874.31L1164.25,875.50L1184.50,875.50L1184.75,875.34L1185.25,873.96L1185.75,873.32L1186.50,874.87L1187.00,874.70L1187.75,875.33L1188.75,874.31L1189.75,875.50L1193.75,875.50L1195.00,874.30L1196.25,875.50L1198.75,875.50L1200.00,874.30L1201.25,875.50L1208.00,875.50L1208.75,874.30L1209.25,873.91L1210.50,875.50L1215.00,875.50L1215.25,875.38L1215.75,874.38L1216.25,873.92L1217.25,875.50L1217.75,875.38L1218.25,874.38L1218.75,873.92L1219.75,875.41L1220.25,874.66L1220.75,874.31L1221.75,875.50L1223.00,874.90L1224.00,875.50L1251.00,875.50L1251.50,874.08L1252.00,873.30L1252.75,874.73L1253.25,874.51L1253.50,874.70L1254.50,872.74L1255.00,873.49L1255.50,874.84L1256.25,874.80L1257.00,875.50L1260.00,875.50L1261.25,874.31L1262.00,875.16L1263.00,874.30L1264.00,875.50L1290.50,875.50L1291.75,874.31L1292.75,875.50L1294.00,875.50L1295.00,874.30L1296.00,875.50L1307.50,875.50L1308.75,874.81L1310.00,875.50L1311.00,874.90L1312.00,875.50L1313.00,874.30L1313.75,875.08L1314.50,874.50L1314.75,874.65L1315.50,873.07L1316.50,869.14L1317.25,872.28L1317.75,873.10L1318.25,874.62L1318.50,874.50L1319.25,875.08L1320.00,874.30L1321.00,875.50L1321.50,875.50L1322.00,874.47L1322.50,873.90L1323.25,874.94L1324.00,874.70L1325.00,875.50L1369.50,875.50L1369.5,875.50Z" fill="#C050F8"/>
<line x1="352.0" x2="1369.5" y1="875.50" y2="875.50" stroke="#000" stroke-width="0.65"/>
<line x1="106.9" x2="106.9" y1="30.5" y2="880.8" stroke="#000" stroke-width="2.9"/>
<path d="M99.2,146.50H106.9M99.2,112.50H106.9M99.2,78.50H106.9M99.2,44.50H106.9M99.2,268.00H106.9M99.2,234.00H106.9M99.2,200.00H106.9M99.2,166.00H106.9M99.2,389.50H106.9M99.2,355.50H106.9M99.2,321.50H106.9M99.2,287.50H106.9M99.2,511.00H106.9M99.2,477.00H106.9M99.2,443.00H106.9M99.2,409.00H106.9M99.2,632.50H106.9M99.2,598.50H106.9M99.2,564.50H106.9M99.2,530.50H106.9M99.2,754.00H106.9M99.2,720.00H106.9M99.2,686.00H106.9M99.2,652.00H106.9M99.2,875.50H106.9M99.2,841.50H106.9M99.2,807.50H106.9M99.2,773.50H106.9" stroke="#333" stroke-width="2.9" fill="none"/>
<text x="229.60" y="100.00" font-size="25.42" fill="#1a1a1a" text-anchor="middle" textLength="191.3" lengthAdjust="spacingAndGlyphs">Dermal Papillae</text>
<text x="229.60" y="221.50" font-size="25.42" fill="#1a1a1a" text-anchor="middle" textLength="104.0" lengthAdjust="spacingAndGlyphs">Papillary</text>
<text x="229.60" y="343.00" font-size="25.42" fill="#1a1a1a" text-anchor="middle" textLength="220.7" lengthAdjust="spacingAndGlyphs">Upper Progenitors</text>
<text x="229.60" y="464.50" font-size="25.42" fill="#1a1a1a" text-anchor="middle" textLength="219.9" lengthAdjust="spacingAndGlyphs">Lower Progenitors</text>
<text x="229.60" y="586.00" font-size="25.42" fill="#1a1a1a" text-anchor="middle" textLength="108.0" lengthAdjust="spacingAndGlyphs">Reticular</text>
<text x="229.60" y="707.50" font-size="25.42" fill="#1a1a1a" text-anchor="middle" textLength="157.7" lengthAdjust="spacingAndGlyphs">Intermediate</text>
<text x="229.60" y="829.00" font-size="25.42" fill="#1a1a1a" text-anchor="middle" textLength="180.7" lengthAdjust="spacingAndGlyphs">Pre-adipocytes</text>
<text x="52.20" y="459.80" font-size="31.78" fill="#000" text-anchor="middle" textLength="273.4" lengthAdjust="spacingAndGlyphs" transform="rotate(-90 52.20 459.80)">Normalized signal</text>
<text x="84.40" y="455.40" font-size="31.78" fill="#000" text-anchor="middle" textLength="228.6" lengthAdjust="spacingAndGlyphs" transform="rotate(-90 84.40 455.40)">(range 0 - 650)</text>
<line x1="106.9" x2="106.9" y1="919.6" y2="1174.2" stroke="#000" stroke-width="2.9"/>
<text x="69.80" y="1046.70" font-size="31.78" fill="#000" text-anchor="middle" textLength="96.6" lengthAdjust="spacingAndGlyphs" transform="rotate(-90 69.80 1046.70)">Genes</text>
<line x1="106.9" x2="106.9" y1="1212.6" y2="1297.4" stroke="#000" stroke-width="2.9"/>
<text x="69.80" y="1254.20" font-size="31.78" fill="#000" text-anchor="middle" textLength="88.5" lengthAdjust="spacingAndGlyphs" transform="rotate(-90 69.80 1254.20)">Peaks</text>
<g stroke="#006400" stroke-width="3.2" fill="none" stroke-linejoin="miter" stroke-miterlimit="2">
<path d="M398.0,1116.4H453.6"/>
<path d="M403.40,1111.00L398.00,1116.4L403.40,1121.80M421.87,1111.00L416.47,1116.4L421.87,1121.80M440.34,1111.00L434.94,1116.4L440.34,1121.80M458.81,1111.00L453.41,1116.4L458.81,1121.80"/>
</g>
<rect x="455.2" y="1107.4" width="1.5" height="17.6" fill="#006400" opacity="0.45"/>
<g stroke="#00008B" stroke-width="3.2" fill="none" stroke-linejoin="miter" stroke-miterlimit="2">
<path d="M476.2,1116.4H1267.5"/>
<path d="M470.85,1111.00L476.25,1116.4L470.85,1121.80M489.35,1111.00L494.75,1116.4L489.35,1121.80M507.85,1111.00L513.25,1116.4L507.85,1121.80M526.35,1111.00L531.75,1116.4L526.35,1121.80M544.85,1111.00L550.25,1116.4L544.85,1121.80M563.35,1111.00L568.75,1116.4L563.35,1121.80M581.85,1111.00L587.25,1116.4L581.85,1121.80M600.35,1111.00L605.75,1116.4L600.35,1121.80M618.85,1111.00L624.25,1116.4L618.85,1121.80M637.35,1111.00L642.75,1116.4L637.35,1121.80M655.85,1111.00L661.25,1116.4L655.85,1121.80M674.35,1111.00L679.75,1116.4L674.35,1121.80M692.85,1111.00L698.25,1116.4L692.85,1121.80M711.35,1111.00L716.75,1116.4L711.35,1121.80M729.85,1111.00L735.25,1116.4L729.85,1121.80M748.35,1111.00L753.75,1116.4L748.35,1121.80M766.85,1111.00L772.25,1116.4L766.85,1121.80M785.35,1111.00L790.75,1116.4L785.35,1121.80M803.85,1111.00L809.25,1116.4L803.85,1121.80M822.35,1111.00L827.75,1116.4L822.35,1121.80M840.85,1111.00L846.25,1116.4L840.85,1121.80M859.35,1111.00L864.75,1116.4L859.35,1121.80M877.85,1111.00L883.25,1116.4L877.85,1121.80M896.35,1111.00L901.75,1116.4L896.35,1121.80M914.85,1111.00L920.25,1116.4L914.85,1121.80M933.35,1111.00L938.75,1116.4L933.35,1121.80M951.85,1111.00L957.25,1116.4L951.85,1121.80M970.35,1111.00L975.75,1116.4L970.35,1121.80M988.85,1111.00L994.25,1116.4L988.85,1121.80M1007.35,1111.00L1012.75,1116.4L1007.35,1121.80M1025.85,1111.00L1031.25,1116.4L1025.85,1121.80M1044.35,1111.00L1049.75,1116.4L1044.35,1121.80M1062.85,1111.00L1068.25,1116.4L1062.85,1121.80M1081.35,1111.00L1086.75,1116.4L1081.35,1121.80M1099.85,1111.00L1105.25,1116.4L1099.85,1121.80M1118.35,1111.00L1123.75,1116.4L1118.35,1121.80M1136.85,1111.00L1142.25,1116.4L1136.85,1121.80M1155.35,1111.00L1160.75,1116.4L1155.35,1121.80M1173.85,1111.00L1179.25,1116.4L1173.85,1121.80M1192.35,1111.00L1197.75,1116.4L1192.35,1121.80M1210.85,1111.00L1216.25,1116.4L1210.85,1121.80M1229.35,1111.00L1234.75,1116.4L1229.35,1121.80M1247.85,1111.00L1253.25,1116.4L1247.85,1121.80M1261.90,1111.00L1267.3,1116.4L1261.90,1121.80"/>
</g>
<rect x="476.2" y="1107.3" width="8.7" height="17.6" fill="#00008B"/>
<rect x="1131.3" y="1107.3" width="1.5" height="17.6" fill="#00008B"/>
<rect x="1252.2" y="1107.3" width="15.1" height="17.6" fill="#00008B"/>
<text x="426.80" y="1030.50" font-size="20.55" fill="#000" text-anchor="middle" textLength="97.4" lengthAdjust="spacingAndGlyphs">Gm29007</text>
<text x="871.30" y="1030.50" font-size="20.55" fill="#000" text-anchor="middle" textLength="65.0" lengthAdjust="spacingAndGlyphs">Meox2</text>
<rect x="471.1" y="1249.2" width="9.8" height="11.6" fill="#696969"/>
<rect x="482" y="1249.2" width="8.2" height="11.6" fill="#696969"/>
<rect x="501.8" y="1249.2" width="7.1" height="11.6" fill="#696969"/>
<rect x="626.8" y="1249.2" width="10.2" height="11.6" fill="#696969"/>
<rect x="642.9" y="1249.2" width="10.0" height="11.6" fill="#696969"/>
<rect x="847.8" y="1249.2" width="9.5" height="11.6" fill="#696969"/>
<rect x="1071.7" y="1249.2" width="10.3" height="11.6" fill="#696969"/>
<rect x="1098" y="1249.2" width="10.7" height="11.6" fill="#696969"/>
<rect x="1114" y="1249.2" width="9.0" height="11.6" fill="#696969"/>
<rect x="1139" y="1249.2" width="10.0" height="11.6" fill="#696969"/>
<rect x="1249.5" y="1249.2" width="9.5" height="11.6" fill="#696969"/>
<rect x="1311.2" y="1249.2" width="10.0" height="11.6" fill="#696969"/>
<line x1="352.0" x2="1369.5" y1="1297.5" y2="1297.5" stroke="#000" stroke-width="2.9"/>
<text x="380.70" y="1329.90" font-size="25.42" fill="#4d4d4d" text-anchor="middle" textLength="124.4" lengthAdjust="spacingAndGlyphs">37100000</text>
<text x="603.65" y="1329.90" font-size="25.42" fill="#4d4d4d" text-anchor="middle" textLength="124.4" lengthAdjust="spacingAndGlyphs">37120000</text>
<text x="826.60" y="1329.90" font-size="25.42" fill="#4d4d4d" text-anchor="middle" textLength="124.4" lengthAdjust="spacingAndGlyphs">37140000</text>
<text x="1049.55" y="1329.90" font-size="25.42" fill="#4d4d4d" text-anchor="middle" textLength="124.4" lengthAdjust="spacingAndGlyphs">37160000</text>
<text x="1272.50" y="1329.90" font-size="25.42" fill="#4d4d4d" text-anchor="middle" textLength="124.4" lengthAdjust="spacingAndGlyphs">37180000</text>
<path d="M380.70,1297.5V1304.7M603.65,1297.5V1304.7M826.60,1297.5V1304.7M1049.55,1297.5V1304.7M1272.50,1297.5V1304.7" stroke="#333" stroke-width="2.9" fill="none"/>
<text x="860.70" y="1363.80" font-size="31.78" fill="#000" text-anchor="middle" textLength="290.7" lengthAdjust="spacingAndGlyphs">chr12 position (bp)</text>
</svg>
</body></html>
